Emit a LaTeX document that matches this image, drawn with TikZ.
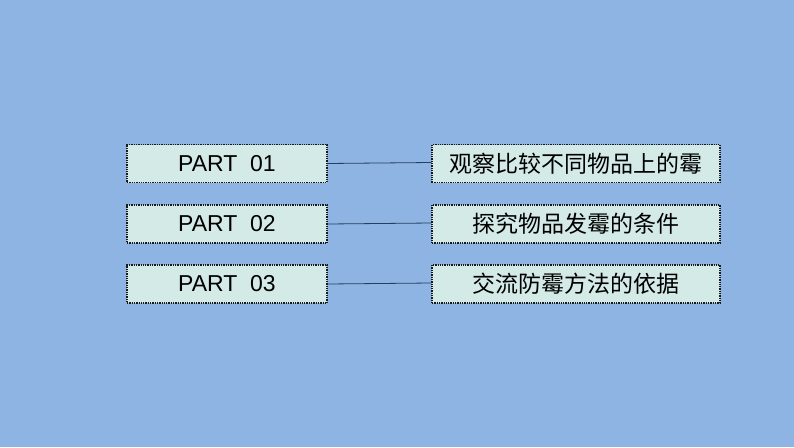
\documentclass[tikz,border=0pt]{standalone}
\usepackage{fontspec}
\setmainfont{Liberation Sans}
\newfontfamily\cjk{Noto Sans CJK SC}
\definecolor{bg}{HTML}{8EB4E3}
\definecolor{boxf}{HTML}{D3EAE6}
\definecolor{ln}{HTML}{23405E}
\begin{document}
\begin{tikzpicture}[x=1pt,y=-1pt,
  bx/.style={draw=black!90,densely dotted,line width=1.3pt,fill=boxf,minimum height=38pt,inner sep=0pt,font=\fontsize{23}{26}\selectfont},
  lb/.style={bx,minimum width=200pt},
  rb/.style={bx,minimum width=288pt,font=\cjk\fontsize{23}{26}\selectfont},
  cn/.style={draw=ln,line width=0.8pt}]
\fill[bg] (0,0) rectangle (794,447);
\useasboundingbox (0,0) rectangle (794,447);
\node[lb] (l1) at (227,163.5) {PART\ \ 01};
\node[lb] (l2) at (227,224) {PART\ \ 02};
\node[lb] (l3) at (227,284) {PART\ \ 03};
\node[rb] (r1) at (576,163.5) {观察比较不同物品上的霉};
\node[rb] (r2) at (576,224) {探究物品发霉的条件};
\node[rb] (r3) at (576,284) {交流防霉方法的依据};
\draw[cn] (l1.east) -- ([yshift=1pt]r1.west);
\draw[cn] (l2.east) -- ([yshift=1pt]r2.west);
\draw[cn] (l3.east) -- ([yshift=1pt]r3.west);
\end{tikzpicture}
\end{document}
